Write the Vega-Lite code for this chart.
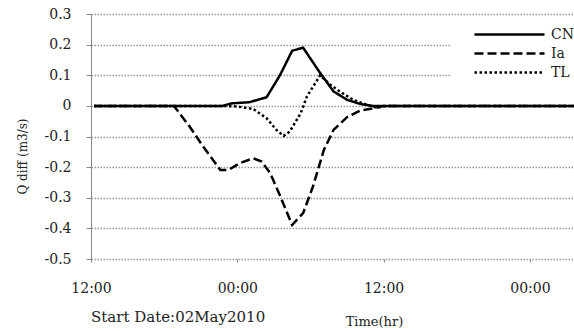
{
  "$schema": "https://vega.github.io/schema/vega-lite/v6.json",
  "width": 484,
  "height": 245,
  "autosize": "none",
  "padding": {"left": 91, "top": 14, "right": 0, "bottom": 72},
  "background": "white",
  "config": {
    "view": {"stroke": null},
    "font": "DejaVu Serif",
    "axis": {"labelFont": "DejaVu Serif", "titleFont": "DejaVu Serif", "labelColor": "#222", "titleColor": "#222", "titleFontWeight": "normal"}
  },
  "title": {
    "text": "Start Date:02May2010",
    "orient": "bottom",
    "anchor": "start",
    "frame": "group",
    "font": "DejaVu Serif",
    "fontSize": 15,
    "fontWeight": "normal",
    "color": "#222",
    "offset": 0,
    "dy": -18
  },
  "data": {
    "values": [
      {"t": 0.25, "series": "CN", "q": 0},
      {"t": 10.8, "series": "CN", "q": 0},
      {"t": 11.5, "series": "CN", "q": 0.008},
      {"t": 13.0, "series": "CN", "q": 0.012},
      {"t": 14.4, "series": "CN", "q": 0.028},
      {"t": 15.5, "series": "CN", "q": 0.1},
      {"t": 16.5, "series": "CN", "q": 0.18},
      {"t": 17.4, "series": "CN", "q": 0.19},
      {"t": 18.8, "series": "CN", "q": 0.107},
      {"t": 19.9, "series": "CN", "q": 0.047},
      {"t": 21.0, "series": "CN", "q": 0.02},
      {"t": 22.1, "series": "CN", "q": 0.006},
      {"t": 23.1, "series": "CN", "q": 0},
      {"t": 40, "series": "CN", "q": 0},
      {"t": 0.25, "series": "Ia", "q": 0},
      {"t": 6.8, "series": "Ia", "q": 0},
      {"t": 8.1, "series": "Ia", "q": -0.068},
      {"t": 9.2, "series": "Ia", "q": -0.133},
      {"t": 10.6, "series": "Ia", "q": -0.209},
      {"t": 11.3, "series": "Ia", "q": -0.209},
      {"t": 12.2, "series": "Ia", "q": -0.187},
      {"t": 13.3, "series": "Ia", "q": -0.171},
      {"t": 14.0, "series": "Ia", "q": -0.182},
      {"t": 14.7, "series": "Ia", "q": -0.22},
      {"t": 15.5, "series": "Ia", "q": -0.293},
      {"t": 16.5, "series": "Ia", "q": -0.389},
      {"t": 17.4, "series": "Ia", "q": -0.35},
      {"t": 18.2, "series": "Ia", "q": -0.264},
      {"t": 19.1, "series": "Ia", "q": -0.144},
      {"t": 19.9, "series": "Ia", "q": -0.078},
      {"t": 21.0, "series": "Ia", "q": -0.037},
      {"t": 22.1, "series": "Ia", "q": -0.015},
      {"t": 23.2, "series": "Ia", "q": -0.008},
      {"t": 24.0, "series": "Ia", "q": 0},
      {"t": 40, "series": "Ia", "q": 0},
      {"t": 0.25, "series": "TL", "q": 0},
      {"t": 10.8, "series": "TL", "q": 0},
      {"t": 12.0, "series": "TL", "q": -0.002},
      {"t": 13.3, "series": "TL", "q": -0.01},
      {"t": 14.4, "series": "TL", "q": -0.04},
      {"t": 15.2, "series": "TL", "q": -0.078},
      {"t": 15.8, "series": "TL", "q": -0.098},
      {"t": 16.3, "series": "TL", "q": -0.084},
      {"t": 17.2, "series": "TL", "q": -0.024},
      {"t": 17.7, "series": "TL", "q": 0.03},
      {"t": 18.8, "series": "TL", "q": 0.1},
      {"t": 19.6, "series": "TL", "q": 0.07},
      {"t": 20.4, "series": "TL", "q": 0.047},
      {"t": 21.5, "series": "TL", "q": 0.02},
      {"t": 22.6, "series": "TL", "q": 0.004},
      {"t": 23.4, "series": "TL", "q": -0.006},
      {"t": 24.3, "series": "TL", "q": 0},
      {"t": 40, "series": "TL", "q": 0}
    ]
  },
  "mark": {"type": "line", "color": "black", "strokeWidth": 2.5, "clip": true},
  "encoding": {
    "x": {
      "field": "t",
      "type": "quantitative",
      "scale": {"domain": [0, 39.7], "nice": false, "zero": false},
      "axis": {
        "values": [0, 12, 24, 36],
        "labelExpr": "datum.value % 24 == 0 ? '12:00' : '00:00'",
        "grid": false,
        "domain": false,
        "tickColor": "#888",
        "tickSize": 3,
        "labelFontSize": 14,
        "labelPadding": 19,
        "labelDx": 6,
        "labelFlush": false,
        "labelOverlap": false,
        "title": "Time(hr)",
        "titleFontSize": 13,
        "titleX": 283,
        "titleY": 66,
        "titleAlign": "center",
        "titleBaseline": "alphabetic"
      }
    },
    "y": {
      "field": "q",
      "type": "quantitative",
      "scale": {"domain": [-0.5, 0.3], "nice": false, "zero": false},
      "axis": {
        "values": [-0.5, -0.4, -0.3, -0.2, -0.1, 0, 0.1, 0.2, 0.3],
        "labelExpr": "replace(format(datum.value, '.1~f'), '\u2212', '-')",
        "grid": true,
        "gridColor": "#999",
        "gridDash": [1.5, 1.5],
        "gridWidth": 1.5,
        "domainColor": "#888",
        "tickColor": "#888",
        "tickSize": 5,
        "labelFontSize": 14,
        "labelPadding": 15,
        "title": "Q diff (m3/s)",
        "titleFontSize": 12,
        "titleX": -65,
        "titleY": 142,
        "titleAlign": "center",
        "titleBaseline": "alphabetic",
        "titleAngle": -90
      }
    },
    "strokeDash": {
      "field": "series",
      "type": "nominal",
      "scale": {"domain": ["CN", "Ia", "TL"], "range": [[1, 0], [9, 4], [2.5, 2.5]]},
      "legend": {
        "title": null,
        "orient": "none",
        "legendX": 359,
        "legendY": 4,
        "padding": 8,
        "fillColor": "white",
        "symbolType": "stroke",
        "symbolSize": 4900,
        "symbolStrokeWidth": 2.5,
        "symbolStrokeColor": "black",
        "symbolOffset": 15,
        "clipHeight": 17,
        "rowPadding": 2,
        "labelFont": "DejaVu Serif",
        "labelFontSize": 14,
        "labelColor": "#222",
        "labelOffset": 5
      }
    },
    "order": {"field": "t", "type": "quantitative"}
  }
}
